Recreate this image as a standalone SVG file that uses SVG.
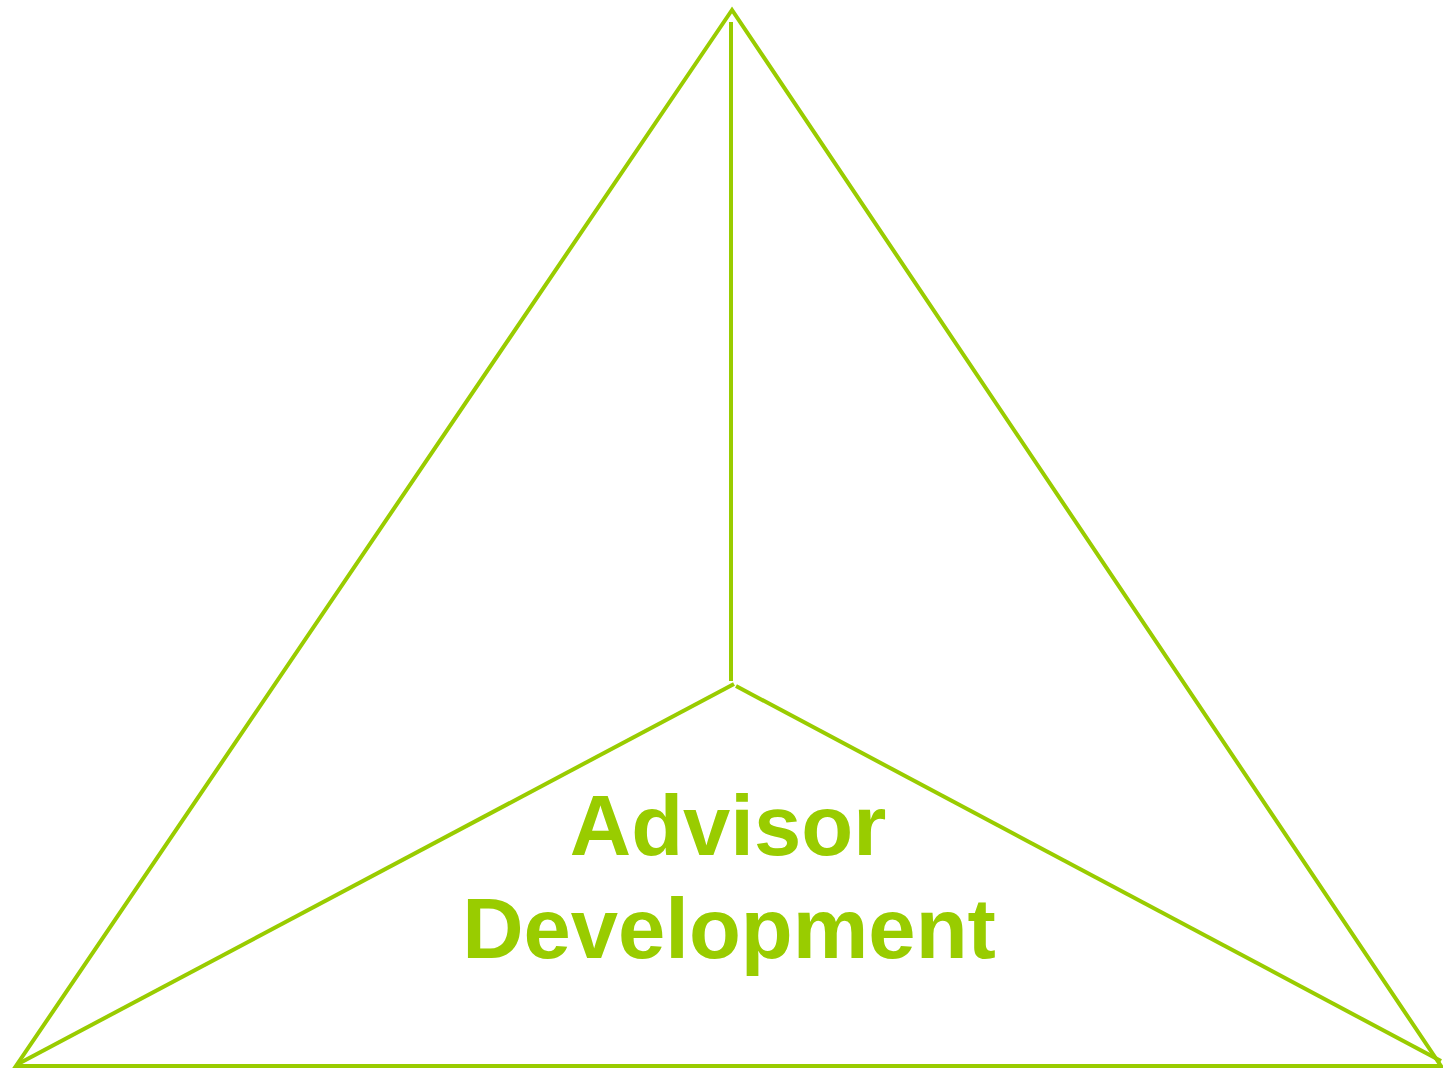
<svg xmlns="http://www.w3.org/2000/svg" width="1443" height="1070" viewBox="0 0 1443 1070">
<style>
.ln{stroke:#99CC00;stroke-width:4;fill:none;}
.lbl{font-family:"Liberation Sans",Arial,sans-serif;font-weight:bold;font-size:85px;fill:#99CC00;text-anchor:middle;}
</style>
<rect width="1443" height="1070" fill="#fff"/>
<g id="connectors">
<polygon class="ln" points="732,10 16,1066 1441,1066"/>
<line class="ln" x1="731" y1="22" x2="731" y2="681"/>
<line class="ln" x1="734" y1="684" x2="18" y2="1064"/>
<line class="ln" x1="736" y1="686" x2="1441" y2="1061"/>
</g>
<g id="node-advisor-development">
<text class="lbl" x="728" y="855">Advisor</text>
<text class="lbl" x="729" y="958">Development</text>
</g>
</svg>
